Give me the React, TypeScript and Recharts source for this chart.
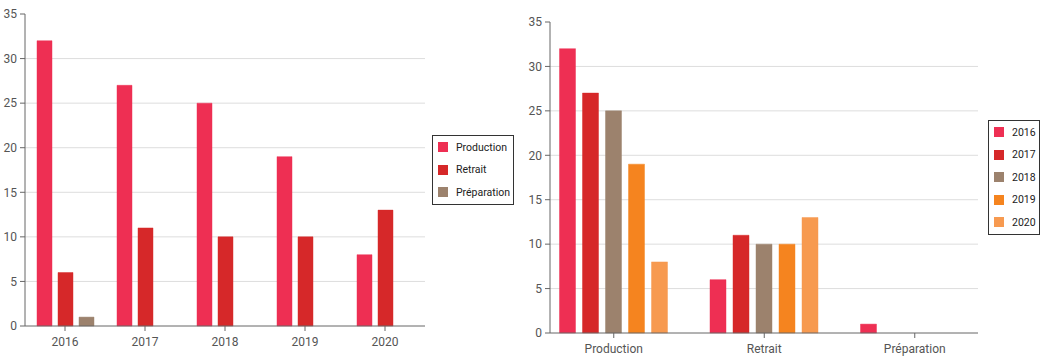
import { BarChart, Bar, XAxis, YAxis, CartesianGrid } from 'recharts';

const years = ['2016', '2017', '2018', '2019', '2020'];
const stages = ['Production', 'Retrait', 'Préparation'];

// values per stage, one entry per year
const production = [32, 27, 25, 19, 8];
const retrait = [6, 11, 10, 10, 13];
const preparation = [1, 0, 0, 0, 0];

const yTicks = [0, 5, 10, 15, 20, 25, 30, 35];
const gridValues = [5, 10, 15, 20, 25, 30];

const STAGE_COLORS = ['#ee2f53', '#d62829', '#9c826d'];
const YEAR_COLORS = ['#ee2f53', '#d62829', '#9c826d', '#f5841f', '#f79a50'];

const FONT = 'Roboto, "Noto Sans", sans-serif';
const AXIS = '#666';
const TICK = { fill: '#555', fontSize: 12, fontFamily: FONT };

const stageSeries = [production, retrait, preparation];

// left chart: one row per year
const byYear = years.map((y, i) => ({
  name: y,
  Production: production[i],
  Retrait: retrait[i],
  'Préparation': preparation[i],
}));

// right chart: one row per stage
const byStage = stages.map((s, si) => {
  const row: Record<string, string | number> = { name: s };
  years.forEach((y, yi) => {
    row[y] = stageSeries[si][yi];
  });
  return row;
});

function LegendBox({ items, colors, style }: { items: string[]; colors: string[]; style: React.CSSProperties }) {
  return (
    <div
      style={{
        position: 'absolute',
        border: '1px solid #333',
        background: '#fff',
        boxSizing: 'border-box',
        padding: '0 3px 0 5px',
        fontFamily: FONT,
        fontSize: 10.5,
        color: '#222',
        ...style,
      }}
    >
      {items.map((it, i) => (
        <div key={it} style={{ display: 'flex', alignItems: 'center', height: 22.5 }}>
          <span style={{ width: 10, height: 10, background: colors[i], marginRight: 8, display: 'inline-block' }} />
          <span>{it}</span>
        </div>
      ))}
    </div>
  );
}

export default function App() {
  return (
    <div style={{ position: 'absolute', left: 0, top: 0, width: 1046, height: 364, background: '#fff' }}>
      <div style={{ position: 'absolute', left: 0, top: 0 }}>
        <BarChart
          width={428}
          height={364}
          data={byYear}
          margin={{ top: 14, right: 3, bottom: 0, left: 0 }}
          barSize={15}
          barGap={6}
        >
          <CartesianGrid vertical={false} horizontalValues={gridValues} stroke="#ddd" strokeWidth={1} />
          <XAxis
            dataKey="name"
            height={38}
            stroke={AXIS}
            tick={TICK}
            tickSize={5}
            tickMargin={6}
          />
          <YAxis
            width={25}
            domain={[0, 35]}
            ticks={yTicks}
            stroke={AXIS}
            tick={TICK}
            tickSize={5}
            tickMargin={3}
            interval={0}
          />
          {stages.map((s, i) => (
            <Bar
              key={s}
              dataKey={s}
              fill={STAGE_COLORS[i]}
              stroke={STAGE_COLORS[i]}
              strokeOpacity={0.45}
              isAnimationActive={false}
            />
          ))}
        </BarChart>
      </div>
      <LegendBox items={stages} colors={STAGE_COLORS} style={{ left: 432, top: 135, width: 82, height: 70 }} />

      <div style={{ position: 'absolute', left: 525, top: 0 }}>
        <BarChart
          width={460}
          height={364}
          data={byStage}
          margin={{ top: 22, right: 7, bottom: 0, left: 0 }}
          barSize={16}
          barGap={7}
        >
          <CartesianGrid vertical={false} horizontalValues={gridValues} stroke="#ddd" strokeWidth={1} />
          <XAxis
            dataKey="name"
            height={31}
            stroke={AXIS}
            tick={TICK}
            tickSize={5}
            tickMargin={6}
            padding={{ left: -11.5, right: -12 }}
          />
          <YAxis
            width={25}
            domain={[0, 35]}
            ticks={yTicks}
            stroke={AXIS}
            tick={TICK}
            tickSize={5}
            tickMargin={3}
            interval={0}
          />
          {years.map((y, i) => (
            <Bar
              key={y}
              dataKey={y}
              fill={YEAR_COLORS[i]}
              stroke={YEAR_COLORS[i]}
              strokeOpacity={0.45}
              isAnimationActive={false}
            />
          ))}
        </BarChart>
      </div>
      <LegendBox items={years} colors={YEAR_COLORS} style={{ left: 988, top: 120, width: 52, height: 115 }} />
    </div>
  );
}
